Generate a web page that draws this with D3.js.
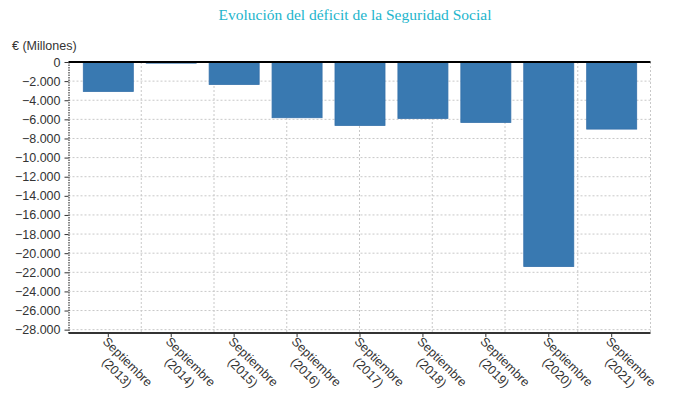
<!DOCTYPE html>
<html>
<head>
<meta charset="utf-8">
<script src="https://cdn.jsdelivr.net/npm/d3@7"></script>
<style>
  body { margin: 0; background: #fff; }
  text { font-family: "Liberation Sans", Arial, sans-serif; }
</style>
</head>
<body>
<div id="chart"></div>
<script>
// Data
const months = ["Septiembre", "Septiembre", "Septiembre", "Septiembre", "Septiembre",
                "Septiembre", "Septiembre", "Septiembre", "Septiembre"];
const years = ["2013", "2014", "2015", "2016", "2017", "2018", "2019", "2020", "2021"];
const deficit = [-3080, -120, -2350, -5830, -6640, -5900, -6320, -21400, -7020];
const yTicks = d3.range(0, -28001, -2000);

const data = years.map((y, i) => ({ key: y, month: months[i], value: deficit[i] }));

const width = 690, height = 399;
const margin = { top: 62, right: 39.5, bottom: 66, left: 68.5 };
const innerW = width - margin.left - margin.right;
const innerH = height - margin.top - margin.bottom;

const svg = d3.select("#chart")
    .append("svg")
    .attr("width", width)
    .attr("height", height);

// Title
svg.append("text")
    .attr("x", 355)
    .attr("y", 20)
    .attr("text-anchor", "middle")
    .style("font-family", "'Liberation Serif', 'Times New Roman', serif")
    .style("font-size", "15.5px")
    .attr("fill", "#22b5cc")
    .text("Evolución del déficit de la Seguridad Social");

// Y axis title
svg.append("text")
    .attr("x", 12)
    .attr("y", 50)
    .style("font-size", "12.5px")
    .attr("fill", "#333")
    .text("€ (Millones)");

const g = svg.append("g")
    .attr("transform", "translate(" + margin.left + "," + margin.top + ")");

// Scales
const x = d3.scaleBand()
    .domain(years)
    .range([8.5, innerW - 7.5])
    .paddingInner(0.205)
    .paddingOuter(0.1);

const y = d3.scaleLinear()
    .domain([-28350, 0])
    .range([innerH, 0]);

// Vertical grid: 8 equal divisions
const gx = d3.scaleLinear().domain([0, 8]).range([0, innerW]);
g.append("g")
    .selectAll("line")
    .data(d3.range(1, 9))
    .enter()
    .append("line")
    .attr("x1", d => gx(d))
    .attr("x2", d => gx(d))
    .attr("y1", 0)
    .attr("y2", innerH)
    .attr("stroke", "#c8c8c8")
    .attr("stroke-dasharray", "2,2");

// Horizontal grid
g.append("g")
    .selectAll("line")
    .data(yTicks.filter(d => d !== 0))
    .enter()
    .append("line")
    .attr("x1", 0)
    .attr("x2", innerW)
    .attr("y1", d => y(d))
    .attr("y2", d => y(d))
    .attr("stroke", "#c8c8c8")
    .attr("stroke-dasharray", "2,2");

// Bars
g.selectAll("rect.bar")
    .data(data)
    .enter()
    .append("rect")
    .attr("class", "bar")
    .attr("x", d => x(d.key))
    .attr("y", y(0))
    .attr("width", x.bandwidth())
    .attr("height", d => y(d.value) - y(0))
    .attr("fill", "#3979b1")
    .attr("stroke", "#3470aa")
    .attr("stroke-width", 0.8);

// Zero line
g.append("line")
    .attr("x1", 0)
    .attr("x2", innerW)
    .attr("y1", y(0))
    .attr("y2", y(0))
    .attr("stroke", "#000")
    .attr("stroke-width", 2);

// Y axis
const yAxis = g.append("g")
    .call(d3.axisLeft(y)
        .tickValues(yTicks)
        .tickSize(4)
        .tickPadding(4)
        .tickFormat(d => d3.format(",")(d).replace(/,/g, ".")));
yAxis.select(".domain")
    .attr("stroke", "#111")
    .attr("stroke-dasharray", "1.5,1")
    .attr("d", "M0.5,0V" + innerH);
yAxis.selectAll(".tick line").attr("stroke", "#333");
yAxis.selectAll(".tick text")
    .style("font-family", "'Liberation Sans', Arial, sans-serif")
    .style("font-size", "12.5px")
    .attr("fill", "#333");

// X axis
const xAxis = g.append("g")
    .attr("transform", "translate(0," + innerH + ")")
    .call(d3.axisBottom(x).tickSize(4).tickFormat(""));
xAxis.select(".domain")
    .attr("stroke", "#333")
    .attr("stroke-width", 2)
    .attr("d", "M0,0H" + innerW);
xAxis.selectAll(".tick line").attr("stroke", "#333");

// Rotated two-line labels
const labels = g.append("g")
    .selectAll("g.xlabel")
    .data(data)
    .enter()
    .append("g")
    .attr("class", "xlabel")
    .attr("transform", d => "translate(" + (x(d.key) + x.bandwidth() / 2) + "," + innerH + ") rotate(45)");

const lt = labels.append("text")
    .attr("text-anchor", "middle")
    .style("font-size", "12.5px")
    .attr("fill", "#333");
lt.append("tspan").attr("x", 34).attr("y", 11).text(d => d.month);
lt.append("tspan").attr("x", 34).attr("y", 26).text(d => "(" + d.key + ")");
</script>
</body>
</html>
